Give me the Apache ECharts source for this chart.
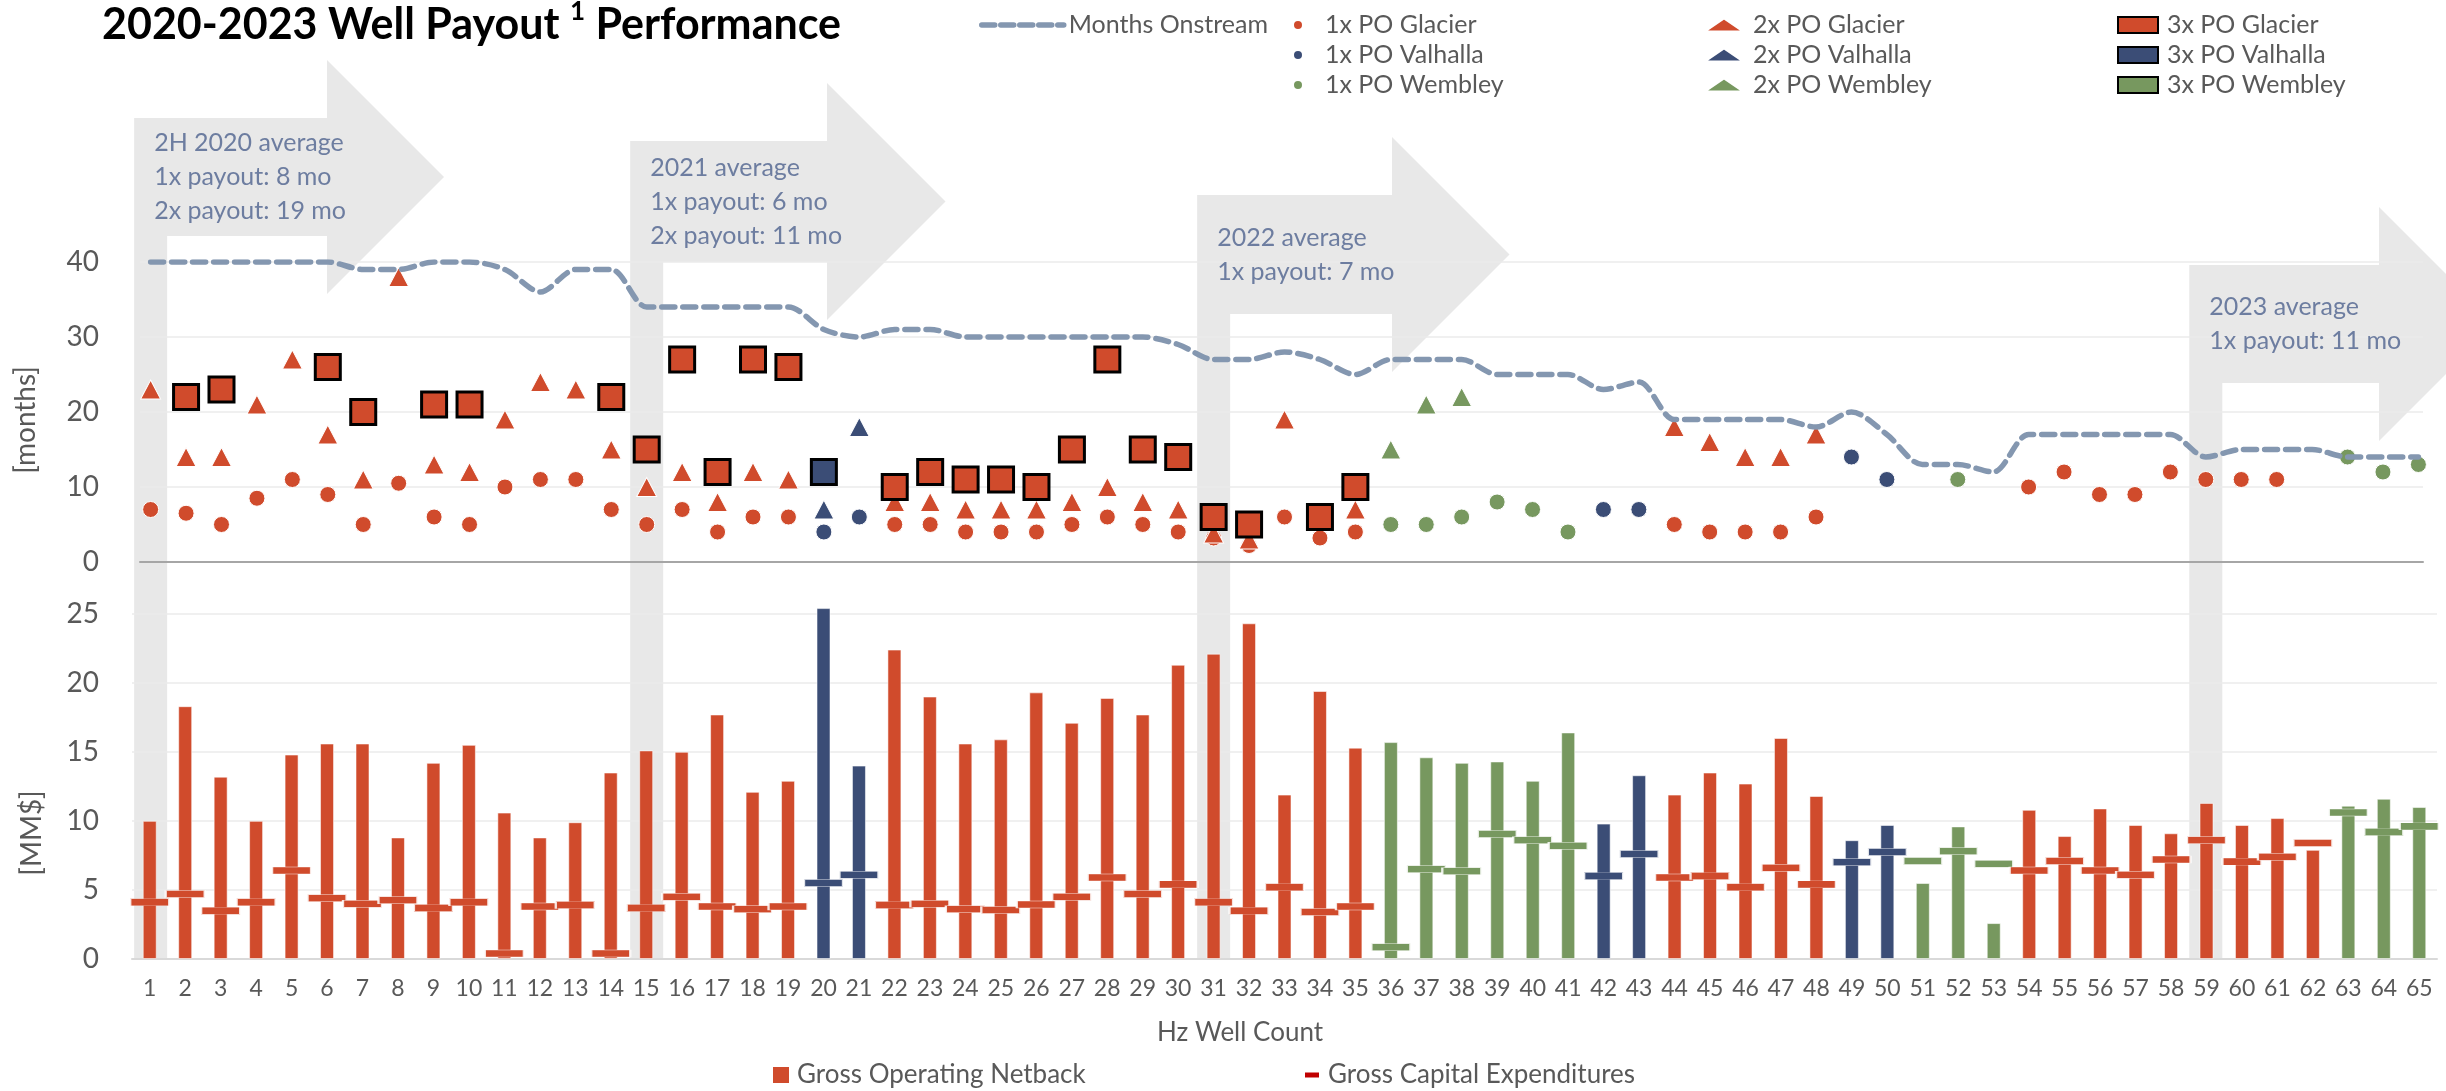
<!DOCTYPE html>
<html>
<head>
<meta charset="utf-8">
<title>2020-2023 Well Payout Performance</title>
<script src="https://cdn.jsdelivr.net/npm/echarts@6/dist/echarts.min.js"></script>
<style>
  html, body { margin: 0; padding: 0; background: #fff; }
  #chart { width: 2446px; height: 1091px; }
</style>
</head>
<body>
<div id="chart"></div>
<script>
// well numbers (x categories)
const wells = [
  '1','2','3','4','5','6','7','8','9','10','11','12','13','14','15','16','17','18','19','20',
  '21','22','23','24','25','26','27','28','29','30','31','32','33','34','35','36','37','38','39','40',
  '41','42','43','44','45','46','47','48','49','50','51','52','53','54','55','56','57','58','59','60',
  '61','62','63','64','65'
]

// area of each well: G = Glacier, V = Valhalla, W = Wembley
const field = [
  'G','G','G','G','G','G','G','G','G','G','G','G','G','G','G','G','G','G','G', // 1-19
  'V','V',                                                                     // 20-21
  'G','G','G','G','G','G','G','G','G','G','G','G','G','G',                     // 22-35
  'W','W','W','W','W','W',                                                     // 36-41
  'V','V',                                                                     // 42-43
  'G','G','G','G','G',                                                         // 44-48
  'V','V',                                                                     // 49-50
  'W','W','W',                                                                 // 51-53
  'G','G','G','G','G','G','G','G','G',                                         // 54-62
  'W','W','W'                                                                  // 63-65
]

// months onstream
const months = [
  40, 40, 40, 40, 40, 40, 39, 39, 40, 40, 39, 36, 39, 39, 34, 34, 34, 34, 34, 31,
  30, 31, 31, 30, 30, 30, 30, 30, 30, 29, 27, 27, 28, 27, 25, 27, 27, 27, 25, 25,
  25, 23, 24, 19, 19, 19, 19, 18, 20, 17, 13, 13, 12, 17, 17, 17, 17, 17, 14, 15,
  15, 15, 14, 14, 14
]

// months to 1x, 2x, 3x payout
const po1 = [
  7, 6.5, 5, 8.5, 11, 9, 5, 10.5, 6, 5, 10, 11, 11, 7, 5, 7, 4, 6, 6, 4,
  6, 5, 5, 4, 4, 4, 5, 6, 5, 4, 3.2, 2.2, 6, 3.2, 4, 5, 5, 6, 8, 7,
  4, 7, 7, 5, 4, 4, 4, 6, 14, 11, null, 11, null, 10, 12, 9, 9, 12, 11, 11,
  11, null, 14, 12, 13
]
const po2 = [
  23, 14, 14, 21, 27, 17, 11, 38, 13, 12, 19, 24, 23, 15, 10, 12, 8, 12, 11, 7,
  18, 8, 8, 7, 7, 7, 8, 10, 8, 7, 3.8, 3, 19, 6, 7, 15, 21, 22, null, null,
  null, null, null, 18, 16, 14, 14, 17, null, null, null, null, null, null, null, null, null, null, null, null,
  null, null, null, null, null
]
const po3 = [
  null, 22, 23, null, null, 26, 20, null, 21, 21, null, null, null, 22, 15, 27, 12, 27, 26, 12,
  null, 10, 12, 11, 11, 10, 15, 27, 15, 14, 6, 5, null, 6, 10, null, null, null, null, null,
  null, null, null, null, null, null, null, null, null, null, null, null, null, null, null, null, null, null, null, null,
  null, null, null, null, null
]

// MM$ per well
const netback = [
  10, 18.3, 13.2, 10, 14.8, 15.6, 15.6, 8.8, 14.2, 15.5, 10.6, 8.8, 9.9, 13.5, 15.1, 15, 17.7, 12.1, 12.9, 25.4,
  14, 22.4, 19, 15.6, 15.9, 19.3, 17.1, 18.9, 17.7, 21.3, 22.1, 24.3, 11.9, 19.4, 15.3, 15.7, 14.6, 14.2, 14.3, 12.9,
  16.4, 9.8, 13.3, 11.9, 13.5, 12.7, 16, 11.8, 8.6, 9.7, 5.5, 9.6, 2.6, 10.8, 8.9, 10.9, 9.7, 9.1, 11.3, 9.7,
  10.2, 7.9, 11.1, 11.6, 11
]
const capex = [
  4.1, 4.7, 3.5, 4.1, 6.4, 4.4, 4.0, 4.25, 3.7, 4.1, 0.4, 3.8, 3.9, 0.4, 3.7, 4.5, 3.8, 3.6, 3.8, 5.5,
  6.1, 3.9, 4.0, 3.6, 3.55, 3.95, 4.5, 5.9, 4.7, 5.4, 4.1, 3.5, 5.2, 3.4, 3.8, 0.85, 6.5, 6.35, 9.05, 8.6,
  8.2, 6.0, 7.6, 5.9, 6.0, 5.2, 6.6, 5.4, 7.0, 7.75, 7.1, 7.8, 6.9, 6.4, 7.1, 6.4, 6.1, 7.2, 8.6, 7.05,
  7.4, 8.4, 10.6, 9.2, 9.6
]

const monthTicks = [0, 10, 20, 30, 40]
const moneyTicks = [0, 5, 10, 15, 20, 25]

// average call-outs
const callouts = [
  { well: 1, lines: ['2H 2020 average', '1x payout: 8 mo', '2x payout: 19 mo'] },
  { well: 15, lines: ['2021 average', '1x payout: 6 mo', '2x payout: 11 mo'] },
  { well: 31, lines: ['2022 average', '1x payout: 7 mo'] },
  { well: 59, lines: ['2023 average', '1x payout: 11 mo'] }
]

const fieldColor = { G: '#D04B2C', V: '#3B4D76', W: '#77985F' }
const fieldName = { G: 'Glacier', V: 'Valhalla', W: 'Wembley' }
const FONT = 'Lato'
const GREY_TEXT = '#595959'

const pts = (arr, f) => {
  const out = []
  arr.forEach((v, i) => {
    if (v != null && field[i] === f) out.push([Number(wells[i]), v])
  })
  return out
}

const poSeries = []
const poStyles = [
  { arr: po1, tag: '1x', symbol: 'circle', size: 16 },
  { arr: po2, tag: '2x', symbol: 'triangle', size: [20, 19] },
  { arr: po3, tag: '3x', symbol: 'rect', size: 25 }
]
poStyles.forEach(s => {
  ;['G', 'V', 'W'].forEach(f => {
    poSeries.push({
      name: s.tag + ' PO ' + fieldName[f],
      type: 'scatter',
      xAxisIndex: 0,
      yAxisIndex: 0,
      symbol: s.symbol,
      symbolSize: s.size,
      itemStyle: s.symbol === 'rect'
        ? { color: fieldColor[f], borderColor: '#000', borderWidth: 3, opacity: 1 }
        : { color: fieldColor[f], borderColor: '#fff', borderWidth: 1, opacity: 1 },
      data: pts(s.arr, f)
    })
  })
})

const colorOf = p => fieldColor[field[p.dataIndex]]

const legendText = { fontFamily: FONT, fontSize: 25, color: GREY_TEXT, lineHeight: 30 }

const option = {
  animation: false,
  textStyle: { fontFamily: FONT },
  title: {
    left: 97,
    top: -6,
    text: '{a|2020-2023 Well Payout }{b|1}{a| Performance}',
    textStyle: {
      rich: {
        a: { fontFamily: FONT, fontWeight: 'bold', fontSize: 43, color: '#000', lineHeight: 52 },
        b: { fontFamily: FONT, fontWeight: 'bold', fontSize: 26, color: '#000', lineHeight: 42, verticalAlign: 'top' }
      }
    }
  },
  legend: [
    {
      left: 979, top: 10, padding: 0, selectedMode: false,
      itemWidth: 82, itemHeight: 14,
      lineStyle: { width: 5.5, type: [13, 6], cap: 'round', color: '#8497B0' },
      data: [{ name: 'Months Onstream', itemStyle: { opacity: 0 } }],
      textStyle: legendText
    },
    {
      left: 1292, top: 10, padding: 0, orient: 'vertical', itemGap: 0, selectedMode: false,
      itemWidth: 36, itemHeight: 10,
      data: ['1x PO Glacier', '1x PO Valhalla', '1x PO Wembley'].map(n => ({ name: n, icon: 'circle' })),
      textStyle: Object.assign({ padding: [0, 0, 0, 4] }, legendText)
    },
    {
      left: 1704, top: 10, padding: 0, orient: 'vertical', itemGap: 0, selectedMode: false,
      itemWidth: 38, itemHeight: 13,
      data: ['2x PO Glacier', '2x PO Valhalla', '2x PO Wembley'].map(n => ({ name: n, icon: 'triangle' })),
      textStyle: Object.assign({ padding: [0, 0, 0, 5] }, legendText)
    },
    {
      left: 2117, top: 10, padding: 0, orient: 'vertical', itemGap: 0, selectedMode: false,
      itemWidth: 40, itemHeight: 16,
      data: ['3x PO Glacier', '3x PO Valhalla', '3x PO Wembley'].map(n => ({ name: n, icon: 'rect' })),
      textStyle: Object.assign({ padding: [0, 0, 0, 4] }, legendText)
    },
    {
      left: 773, top: 1062, padding: 0, selectedMode: false,
      itemWidth: 16, itemHeight: 16,
      data: [{ name: 'Gross Operating Netback', icon: 'rect', itemStyle: { color: fieldColor.G, borderWidth: 0 } }],
      textStyle: { fontFamily: FONT, fontSize: 26, color: GREY_TEXT, padding: [0, 0, 0, 3] }
    },
    {
      left: 1305, top: 1062, padding: 0, selectedMode: false,
      itemWidth: 14, itemHeight: 5,
      data: [{ name: 'Gross Capital Expenditures', icon: 'rect', itemStyle: { color: '#C00000', borderWidth: 0, opacity: 1 } }],
      textStyle: { fontFamily: FONT, fontSize: 26, color: GREY_TEXT, padding: [0, 0, 0, 4] }
    }
  ],
  grid: [
    { left: 140, top: 262, width: 2283, height: 300, containLabel: false },
    { left: 132, top: 586, width: 2305, height: 373, containLabel: false }
  ],
  xAxis: [
    {
      type: 'value', gridIndex: 0, min: 0.7, max: 65.13,
      axisLine: { show: true, onZero: false, lineStyle: { color: '#A6A6A6', width: 2 } },
      axisTick: { show: false }, axisLabel: { show: false }, splitLine: { show: false }
    },
    {
      type: 'category', gridIndex: 1, data: wells, boundaryGap: true,
      axisLine: { lineStyle: { color: '#D9D9D9', width: 2 } },
      axisTick: { show: false },
      axisLabel: { interval: 0, fontFamily: FONT, fontSize: 23, color: GREY_TEXT, margin: 18 }
    }
  ],
  yAxis: [
    {
      type: 'value', gridIndex: 0, min: monthTicks[0], max: monthTicks[monthTicks.length - 1], interval: 10,
      axisLine: { show: false }, axisTick: { show: false },
      axisLabel: { fontFamily: FONT, fontSize: 28, color: GREY_TEXT, margin: 41 },
      splitLine: { lineStyle: { color: '#EBEBEB', width: 1.5 } }
    },
    {
      type: 'value', gridIndex: 1, min: moneyTicks[0], max: 27, interval: 5,
      axisLine: { show: false }, axisTick: { show: false },
      axisLabel: { fontFamily: FONT, fontSize: 28, color: GREY_TEXT, margin: 33, showMaxLabel: false },
      splitLine: { showMaxLine: false, lineStyle: { color: '#EBEBEB', width: 1.5 } }
    }
  ],
  series: [
    {
      name: 'Months Onstream',
      type: 'line',
      xAxisIndex: 0, yAxisIndex: 0,
      smooth: 0.3,
      symbol: 'none',
      lineStyle: { color: '#8497B0', width: 5.5, type: [13, 8], cap: 'round' },
      itemStyle: { color: '#8497B0' },
      data: wells.map((w, i) => [Number(w), months[i]])
    },
    ...poSeries,
    {
      name: 'Gross Operating Netback',
      type: 'bar',
      xAxisIndex: 1, yAxisIndex: 1,
      barWidth: 14,
      itemStyle: { color: colorOf, borderColor: 'rgba(255,255,255,0.55)', borderWidth: 1 },
      data: netback
    },
    {
      name: 'Gross Capital Expenditures',
      type: 'scatter',
      xAxisIndex: 1, yAxisIndex: 1,
      symbol: 'rect',
      symbolSize: [39, 7],
      itemStyle: { color: colorOf, borderColor: 'rgba(255,255,255,0.85)', borderWidth: 1, opacity: 1 },
      data: capex
    }
  ]
}

const chart = echarts.init(document.getElementById('chart'))
chart.setOption(option)

// grey arrows behind the call-out text
const shafts = [[118, 236, 327], [141, 262, 827], [195, 314, 1392], [265, 383, 2379]]
const baseY = chart.convertToPixel({ yAxisIndex: 1 }, 0)
const graphic = []
callouts.forEach((c, k) => {
  const cx = chart.convertToPixel({ xAxisIndex: 0 }, c.well)
  const l = cx - 16.5, r = cx + 16.5
  const [top, bottom, head] = shafts[k]
  const mid = (top + bottom) / 2
  const half = (bottom - top) / 2 + 58
  graphic.push({
    type: 'polygon', z: -1, silent: true,
    shape: {
      points: [
        [l, top], [head, top], [head, mid - half], [head + half, mid], [head, mid + half],
        [head, bottom], [r, bottom], [r, baseY], [l, baseY]
      ]
    },
    style: { fill: '#E8E8E8' }
  })
  c.lines.forEach((t, j) => {
    graphic.push({
      type: 'text', z: 10, silent: true,
      x: l + 20,
      y: mid + (j - (c.lines.length - 1) / 2) * 34,
      style: { text: t, font: '25px Lato', fill: '#6D7DA0', textVerticalAlign: 'middle' }
    })
  })
})

graphic.push(
  {
    type: 'text', silent: true, x: 26, y: 420, rotation: Math.PI / 2,
    style: { text: '[months]', font: '28px Lato', fill: GREY_TEXT, textAlign: 'center', textVerticalAlign: 'middle' }
  },
  {
    type: 'text', silent: true, x: 32, y: 833, rotation: Math.PI / 2,
    style: { text: '[MM$]', font: '28px Lato', fill: GREY_TEXT, textAlign: 'center', textVerticalAlign: 'middle' }
  },
  {
    type: 'text', silent: true, x: 1240, y: 1033,
    style: { text: 'Hz Well Count', font: '26px Lato', fill: GREY_TEXT, textAlign: 'center', textVerticalAlign: 'middle' }
  }
)

chart.setOption({ graphic: graphic })

window.addEventListener('resize', () => {
  chart.resize()
})
</script>
</body>
</html>
